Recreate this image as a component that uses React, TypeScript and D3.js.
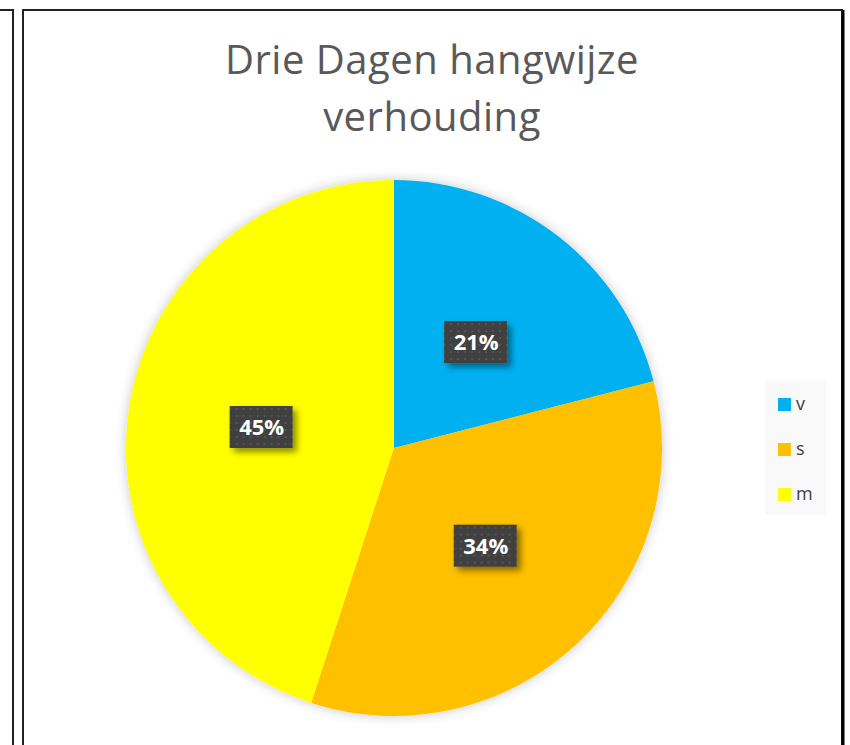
import React, { useEffect, useRef } from "react";
import * as d3 from "d3";

const categories = ["v", "s", "m"];
const values = [21, 34, 45];
const colors = ["#00B0F0", "#FFC000", "#FFFF00"];
const titleLines = ["Drie Dagen hangwijze", "verhouding"];

const W = 850;
const H = 745;

const App = () => {
  const svgRef = useRef<SVGSVGElement | null>(null);

  useEffect(() => {
    const svg = d3.select(svgRef.current);
    svg.selectAll("*").remove();

    const defs = svg.append("defs");

    const glow = defs
      .append("filter")
      .attr("id", "pieGlow")
      .attr("x", "-20%")
      .attr("y", "-20%")
      .attr("width", "140%")
      .attr("height", "140%");
    glow
      .append("feDropShadow")
      .attr("dx", 0)
      .attr("dy", 0)
      .attr("stdDeviation", 6)
      .attr("flood-color", "#000")
      .attr("flood-opacity", 0.22);

    const boxShadow = defs
      .append("filter")
      .attr("id", "boxShadow")
      .attr("x", "-30%")
      .attr("y", "-30%")
      .attr("width", "170%")
      .attr("height", "170%");
    boxShadow
      .append("feDropShadow")
      .attr("dx", 4)
      .attr("dy", 4)
      .attr("stdDeviation", 3)
      .attr("flood-color", "#000")
      .attr("flood-opacity", 0.45);

    const pat = defs
      .append("pattern")
      .attr("id", "dots")
      .attr("width", 7)
      .attr("height", 7)
      .attr("patternUnits", "userSpaceOnUse");
    pat.append("rect").attr("width", 7).attr("height", 7).attr("fill", "#404040");
    pat
      .append("rect")
      .attr("x", 2)
      .attr("y", 2)
      .attr("width", 2)
      .attr("height", 2)
      .attr("fill", "#555");

    svg.append("rect").attr("width", W).attr("height", H).attr("fill", "#fff");

    // frame lines
    svg
      .append("path")
      .attr("d", "M0,10 H13 V745")
      .attr("fill", "none")
      .attr("stroke", "#222")
      .attr("stroke-width", 2);
    svg
      .append("path")
      .attr("d", "M23,760 V10 H842 V760")
      .attr("fill", "none")
      .attr("stroke", "#222")
      .attr("stroke-width", 2);
    svg
      .append("line")
      .attr("x1", 843)
      .attr("x2", 843)
      .attr("y1", 10)
      .attr("y2", 745)
      .attr("stroke", "#000")
      .attr("stroke-width", 3);

    // title
    svg
      .append("text")
      .attr("x", 432)
      .attr("text-anchor", "middle")
      .style("font-family", "'Open Sans', sans-serif")
      .style("font-size", "40px")
      .style("letter-spacing", "0.5px")
      .attr("fill", "#595959")
      .selectAll("tspan")
      .data(titleLines)
      .join("tspan")
      .attr("x", 432)
      .attr("y", (d, i) => 74 + i * 57)
      .text((d) => d);

    const cx = 394;
    const cy = 448;
    const r = 268;

    const pie = d3.pie<number>().sort(null).value((d) => d);
    const arcs = pie(values);
    const arc = d3.arc<d3.PieArcDatum<number>>().innerRadius(0).outerRadius(r);

    const g = svg.append("g").attr("transform", `translate(${cx},${cy})`);
    g.append("g")
      .attr("filter", "url(#pieGlow)")
      .selectAll("path")
      .data(arcs)
      .join("path")
      .attr("d", arc)
      .attr("fill", (d, i) => colors[i]);

    const labels = g
      .selectAll(".lbl")
      .data(arcs)
      .join("g")
      .attr("class", "lbl")
      .attr("transform", (d) => `translate(${arc.centroid(d)})`);
    labels
      .append("rect")
      .attr("x", -32)
      .attr("y", -21)
      .attr("width", 63)
      .attr("height", 42)
      .attr("fill", "url(#dots)")
      .attr("filter", "url(#boxShadow)");
    labels
      .append("text")
      .attr("text-anchor", "middle")
      .attr("y", 8)
      .style("font-family", "'Open Sans', sans-serif")
      .style("font-weight", "bold")
      .style("font-size", "22px")
      .attr("fill", "#fff")
      .text((d) => `${d.data}%`);

    // legend
    const lg = svg.append("g").attr("transform", "translate(765,380)");
    lg.append("rect").attr("width", 61).attr("height", 135).attr("fill", "#f9f9f9");
    const items = lg
      .selectAll(".item")
      .data(categories)
      .join("g")
      .attr("class", "item")
      .attr("transform", (d, i) => `translate(0,${18 + i * 45})`);
    items
      .append("rect")
      .attr("x", 13)
      .attr("width", 13)
      .attr("height", 13)
      .attr("fill", (d, i) => colors[i]);
    items
      .append("text")
      .attr("x", 31)
      .attr("y", 12)
      .style("font-family", "'Open Sans', sans-serif")
      .style("font-size", "18px")
      .attr("fill", "#404040")
      .text((d) => d);
  }, []);

  return (
    <svg
      ref={svgRef}
      width={W}
      height={H}
      style={{ position: "absolute", top: 0, left: 0, display: "block" }}
    />
  );
};

export default App;
